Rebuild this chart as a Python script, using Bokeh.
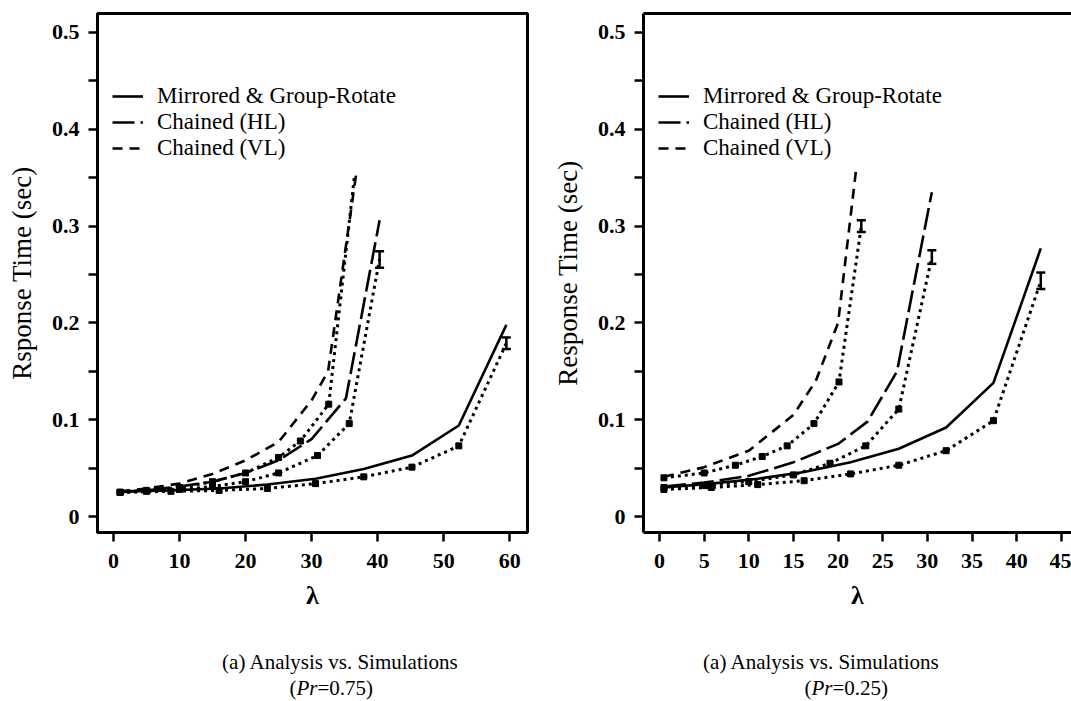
from bokeh.plotting import figure
from bokeh.layouts import row, column
from bokeh.models import (FixedTicker, Legend, LegendItem, Whisker, ColumnDataSource,
                          LinearAxis, Range1d, TeeHead)
from bokeh.core.properties import value
from bokeh.embed import file_html
from bokeh.resources import INLINE

# ---------------- data: left panel (Pr = 0.75) ----------------
l_mgr_x = [1, 8.7, 16, 23.3, 30.6, 37.9, 45.2, 52.3, 59.5]
l_mgr_ana = [0.026, 0.027, 0.029, 0.033, 0.039, 0.049, 0.063, 0.094, 0.198]
l_mgr_sim = [0.025, 0.026, 0.027, 0.029, 0.034, 0.041, 0.051, 0.073, 0.179]
l_hl_x = [1, 5, 10, 15, 20, 25, 30, 35.2, 40.3]
l_hl_ana = [0.025, 0.027, 0.031, 0.036, 0.045, 0.058, 0.080, 0.122, 0.306]
l_hl_sim_x = [1, 5, 10, 15, 20, 25, 30.9, 35.7, 40.3]
l_hl_sim = [0.025, 0.026, 0.028, 0.031, 0.036, 0.045, 0.063, 0.096, 0.266]
l_vl_x = [1, 5, 10, 15, 20, 25, 30, 32.5, 36.8]
l_vl_ana = [0.026, 0.029, 0.034, 0.044, 0.058, 0.077, 0.120, 0.150, 0.356]
l_vl_sim_x = [1, 5, 10, 15, 20, 25, 28.3, 32.6, 36.5]
l_vl_sim = [0.025, 0.027, 0.030, 0.036, 0.045, 0.061, 0.078, 0.116, 0.352]
l_err_x = [59.5, 40.3]
l_err_lo = [0.173, 0.257]
l_err_hi = [0.185, 0.274]

# ---------------- data: right panel (Pr = 0.25) ----------------
r_mgr_x = [0.5, 5.8, 11, 16.2, 21.4, 26.8, 32.1, 37.4, 42.7]
r_mgr_ana = [0.030, 0.034, 0.039, 0.046, 0.056, 0.070, 0.092, 0.138, 0.277]
r_mgr_sim = [0.028, 0.030, 0.033, 0.037, 0.044, 0.053, 0.068, 0.099, 0.243]
r_hl_x = [0.5, 5, 10, 15, 20, 23.3, 26.6, 30.5]
r_hl_ana = [0.031, 0.035, 0.042, 0.056, 0.075, 0.098, 0.150, 0.335]
r_hl_sim_x = [0.5, 5, 10, 15, 19.1, 23.1, 26.8, 30.5]
r_hl_sim = [0.030, 0.032, 0.036, 0.043, 0.055, 0.073, 0.111, 0.268]
r_vl_x = [0.5, 5, 10, 15, 17.5, 20, 22]
r_vl_ana = [0.041, 0.051, 0.068, 0.105, 0.140, 0.200, 0.357]
r_vl_sim_x = [0.5, 5, 8.5, 11.5, 14.3, 17.3, 20.1, 22.6]
r_vl_sim = [0.040, 0.045, 0.053, 0.062, 0.073, 0.096, 0.139, 0.300]
r_err_x = [22.6, 30.5, 42.7]
r_err_lo = [0.294, 0.261, 0.235]
r_err_hi = [0.306, 0.275, 0.252]

legend_labels = ["Mirrored & Group-Rotate", "Chained (HL)", "Chained (VL)"]
y_ticks = [0, 0.1, 0.2, 0.3, 0.4, 0.5]
y_minor = [0.05, 0.15, 0.25, 0.35, 0.45]
l_x_ticks = [0, 10, 20, 30, 40, 50, 60]
r_x_ticks = [0, 5, 10, 15, 20, 25, 30, 35, 40, 45]
caption_line1 = "(a) Analysis vs. Simulations"
caption_pr = "Pr"
l_caption_val = "=0.75)"
r_caption_val = "=0.25)"

SERIF = "Liberation Serif"
DASH_HL = "22 6"
DASH_VL = "10 7"
DOT = "3 4"
MAIN_H = 620
CAP_H = 81


def make_panel(width, x_range, x_ticks, ylabel, series, err, right_open):
    p = figure(width=width, height=MAIN_H, output_backend="svg", toolbar_location=None,
               x_range=x_range, y_range=Range1d(-0.0165, 0.5196),
               min_border_left=97, min_border_right=(0 if right_open else 19),
               min_border_top=13, min_border_bottom=MAIN_H - 532)
    p.xgrid.visible = False
    p.ygrid.visible = False
    p.background_fill_color = "white"
    p.border_fill_color = "white"
    if right_open:
        p.outline_line_color = None
    else:
        p.outline_line_color = "black"
        p.outline_line_width = 3

    xa = p.below[0]
    ya = p.left[0]
    xa.ticker = FixedTicker(ticks=x_ticks)
    ya.ticker = FixedTicker(ticks=y_ticks, minor_ticks=y_minor)
    ya.major_label_overrides = {0: "0"}
    xa.axis_label = "λ"
    ya.axis_label = ylabel
    for ax in [xa, ya]:
        ax.axis_line_width = 3
        ax.major_tick_line_width = 2.5
        ax.major_tick_out = 9
        ax.major_tick_in = 0
        ax.minor_tick_line_width = 2.5
        ax.minor_tick_out = 9
        ax.minor_tick_in = 0
        ax.major_label_text_font = SERIF
        ax.major_label_text_font_style = "bold"
        ax.major_label_text_font_size = "22px"
        ax.major_label_text_color = "black"
        ax.axis_label_text_font = SERIF
        ax.axis_label_text_color = "black"
    xa.major_label_standoff = 12
    ya.major_label_standoff = 9
    xa.axis_label_text_font_style = "bold"
    xa.axis_label_text_font_size = "26px"
    xa.axis_label_standoff = 10
    ya.axis_label_text_font_style = "normal"
    ya.axis_label_text_font_size = "27px"
    ya.axis_label_standoff = 12

    dashes = [None, DASH_HL, DASH_VL]
    items = []
    for (ax_x, ana, sx, sim), dash, lab in zip(series, dashes, legend_labels):
        kw = dict(line_color="black", line_width=2.6)
        if dash:
            kw["line_dash"] = dash
        r = p.line(ax_x, ana, **kw)
        p.line(sx, sim, line_color="black", line_width=3, line_dash=DOT)
        p.scatter(sx[:-1], sim[:-1], marker="square", size=6, color="black")
        items.append(LegendItem(label=lab, renderers=[r]))

    ex, elo, ehi = err
    src = ColumnDataSource(dict(x=ex, lo=elo, hi=ehi))
    p.add_layout(Whisker(source=src, base="x", lower="lo", upper="hi",
                         dimension="height", line_width=2.5, line_color="black",
                         upper_head=TeeHead(size=9, line_width=2.5),
                         lower_head=TeeHead(size=9, line_width=2.5)))

    leg = Legend(items=items, location=(15, 371), padding=0, margin=0,
                 spacing=0, label_height=22, glyph_height=22, glyph_width=31,
                 label_standoff=14, border_line_color=None,
                 background_fill_alpha=0,
                 label_text_font=SERIF, label_text_font_size="23px",
                 label_text_color="black")
    p.add_layout(leg, "center")

    if right_open:
        top = LinearAxis(ticker=FixedTicker(ticks=[]), axis_line_width=3,
                         major_tick_out=0, major_tick_in=0,
                         minor_tick_out=0, minor_tick_in=0,
                         major_label_text_font_size="0px", major_label_standoff=0)
        p.add_layout(top, "above")
    return p


def make_caption(width, center1, left2, val_text):
    c = figure(width=width, height=CAP_H, output_backend="svg", toolbar_location=None,
               x_range=Range1d(0, width), y_range=Range1d(0, CAP_H), min_border=0)
    c.axis.visible = False
    c.xgrid.visible = False
    c.ygrid.visible = False
    c.outline_line_color = None
    c.border_fill_color = "white"
    common = dict(text_font=value(SERIF), text_font_size=value("21px"),
                  text_color="black", text_baseline="middle")
    c.text(x=[center1], y=[40], text=[caption_line1], text_align="center", **common)
    c.text(x=[left2], y=[14], text=["("], text_align="right", **common)
    c.text(x=[left2], y=[14], text=[caption_pr], text_align="left",
           text_font_style=value("italic"), **common)
    c.text(x=[left2 + 21], y=[14], text=[val_text], text_align="left", **common)
    return c


p1 = make_panel(546, Range1d(-2.42, 62.7), l_x_ticks, "Rsponse Time (sec)",
                [(l_mgr_x, l_mgr_ana, l_mgr_x, l_mgr_sim),
                 (l_hl_x, l_hl_ana, l_hl_sim_x, l_hl_sim),
                 (l_vl_x, l_vl_ana, l_vl_sim_x, l_vl_sim)],
                (l_err_x, l_err_lo, l_err_hi), False)
p2 = make_panel(525, Range1d(-1.79, 46.14), r_x_ticks, "Response Time (sec)",
                [(r_mgr_x, r_mgr_ana, r_mgr_x, r_mgr_sim),
                 (r_hl_x, r_hl_ana, r_hl_sim_x, r_hl_sim),
                 (r_vl_x, r_vl_ana, r_vl_sim_x, r_vl_sim)],
                (r_err_x, r_err_lo, r_err_hi), True)
c1 = make_caption(546, 340, 296, l_caption_val)
c2 = make_caption(525, 821 - 546, 811 - 546, r_caption_val)

layout = column(row(p1, p2), row(c1, c2))
open("out.html", "w").write(file_html(layout, INLINE))
